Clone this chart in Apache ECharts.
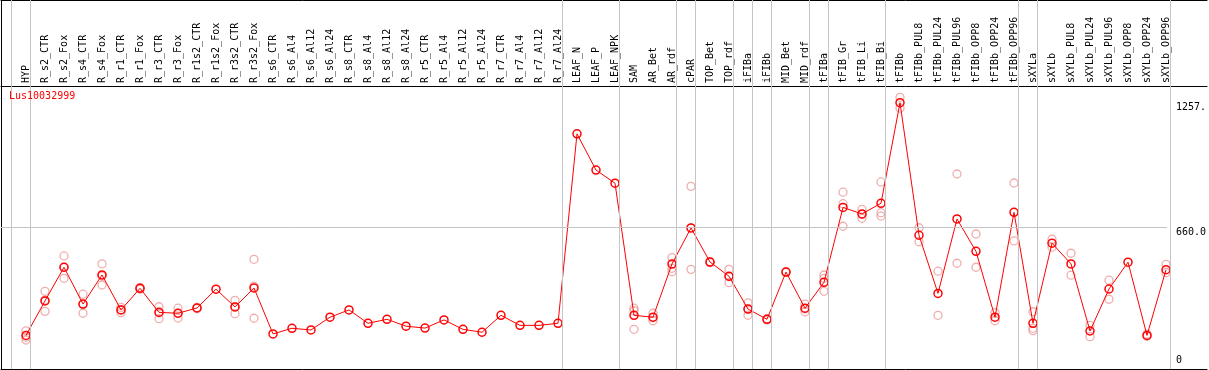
<!DOCTYPE html>
<html><head><meta charset="utf-8">
<script src="https://cdn.jsdelivr.net/npm/echarts@6/dist/echarts.min.js"></script>
<style>html,body{margin:0;padding:0;background:#fff}#c{width:1209px;height:370px}</style>
</head><body><div id="c"></div><script>
const geneId = 'Lus10032999';
const categories = ['HYP','R_s2_CTR','R_s2_Fox','R_s4_CTR','R_s4_Fox','R_r1_CTR','R_r1_Fox','R_r3_CTR','R_r3_Fox','R_r1s2_CTR','R_r1s2_Fox','R_r3s2_CTR','R_r3s2_Fox','R_s6_CTR','R_s6_Al4','R_s6_Al12','R_s6_Al24','R_s8_CTR','R_s8_Al4','R_s8_Al12','R_s8_Al24','R_r5_CTR','R_r5_Al4','R_r5_Al12','R_r5_Al24','R_r7_CTR','R_r7_Al4','R_r7_Al12','R_r7_Al24','LEAF_N','LEAF_P','LEAF_NPK','SAM','AR_Bet','AR_rdf','cPAR','TOP_Bet','TOP_rdf','iFIBa','iFIBb','MID_Bet','MID_rdf','tFIBa','tFIB_Gr','tFIB_Li','tFIB_Bi','tFIBb','tFIBb_PUL8','tFIBb_PUL24','tFIBb_PUL96','tFIBb_OPP8','tFIBb_OPP24','tFIBb_OPP96','sXYLa','sXYLb','sXYLb_PUL8','sXYLb_PUL24','sXYLb_PUL96','sXYLb_OPP8','sXYLb_OPP24','sXYLb_OPP96'];
const means = [144,309,470,294,433,266,369,254,250,275,365,280,371,151,178,170,231,266,202,221,188,179,218,173,159,240,192,192,202,1108,935,872,240,231,486,658,495,427,270,221,447,274,398,756,725,776,1257,623,345,701,546,231,733,202,585,486,165,366,494,144,458];
const replicates = [[166,135,122],[355,259,313],[524,417,470],[341,250,292],[486,385,428],[278,253,267],[374,366,367],[281,224,257],[274,227,249],[278,272],[],[312,248,280],[508,226,379],[],[],[],[],[],[],[],[],[],[],[],[],[],[],[],[],[],[],[],[274,262,173],[250,214,229],[516,465,449],[857,460,657],[497,492],[460,396,425],[300,240,270],[224,218],[449,445],[294,257,271],[433,417,355],[829,774,666],[747,704,723],[878,731,715],[1283,1231],[659,592],[451,240],[916,489],[629,470],[253,214],[873,596],[257,178,167],[604,566],[537,432],[192,138],[408,317],[],[150,140],[484,444]];
const yLabelValues = [660, 1257];
const yZeroLabel = [0];
const yRefLine = 660;
const groupBoundaries = [-0.5,0.5,28.5,31.5,34.5,35.5,37.5,38.5,39.5,41.5,42.5,45.5,52.5,53.5,60.5];

const YMAX = 1337;
const MONO = 'DejaVu Sans Mono';
const repData = [];
replicates.forEach((arr, i) => arr.forEach(v => repData.push([categories[i], v])));
const fmt = v => v === 0 ? '0' : v.toFixed(1).slice(0, 5);
const frameAxis = (grid, pos) => ({gridIndex: grid, type: 'value', position: pos, min: 0, max: 1,
  axisLine: {show: true, onZero: false, lineStyle: {color: '#000', width: 1}},
  axisTick: {show: false}, axisLabel: {show: false}, splitLine: {show: false}});

const chart = echarts.init(document.getElementById('c'), null, {renderer: 'canvas'});
chart.setOption({
  animation: false,
  backgroundColor: '#fff',
  title: {text: geneId, left: 9, top: 91, padding: 0,
    textStyle: {color: '#ff0000', fontSize: 10, fontFamily: MONO, fontWeight: 'normal'}},
  grid: [
    {left: 1, top: 0.5, right: 2, bottom: 1},
    {left: 1, top: 86, right: 2, bottom: 1},
    {left: 1, top: 0, right: 30, bottom: 1},
    {left: 1, top: 86, right: 39, bottom: 4.5},
    {left: 26, top: 86, right: 43, bottom: 4.5}
  ],
  xAxis: [
    frameAxis(0, 'top'),
    frameAxis(1, 'top'),
    {gridIndex: 2, type: 'value', show: false, min: -1.04, max: 60.96},
    {gridIndex: 3, type: 'value', show: false, min: 0, max: 1},
    {gridIndex: 4, type: 'category', data: categories, boundaryGap: false, position: 'top',
      axisLine: {show: false}, axisTick: {show: false}, splitLine: {show: false},
      axisLabel: {interval: 0, rotate: 90, margin: 3, fontSize: 10, fontFamily: MONO, color: '#000'}},
    frameAxis(0, 'bottom')
  ],
  yAxis: [
    frameAxis(0, 'left'),
    {gridIndex: 1, type: 'value', show: false},
    {gridIndex: 2, type: 'value', show: false, min: 0, max: 1},
    {gridIndex: 3, type: 'value', min: 0, max: YMAX, position: 'right',
      axisLine: {show: false}, axisTick: {show: false}, splitLine: {show: false},
      axisLabel: {customValues: yLabelValues, margin: 9, verticalAlign: 'top', align: 'left',
        fontSize: 10, fontFamily: MONO, color: '#000', formatter: fmt}},
    {gridIndex: 3, type: 'value', min: 0, max: YMAX, position: 'right',
      axisLine: {show: false}, axisTick: {show: false}, splitLine: {show: false},
      axisLabel: {customValues: yZeroLabel, margin: 9, verticalAlign: 'bottom', align: 'left',
        fontSize: 10, fontFamily: MONO, color: '#000', formatter: fmt}},
    {gridIndex: 4, type: 'value', min: 0, max: YMAX, show: false}
  ],
  series: [
    {type: 'line', xAxisIndex: 2, yAxisIndex: 2, data: [], silent: true,
      markLine: {silent: true, symbol: ['none', 'none'], label: {show: false}, animation: false,
        lineStyle: {color: '#c4c4c4', width: 1, type: 'solid'},
        emphasis: {disabled: true},
        data: groupBoundaries.map(v => ({xAxis: v}))}},
    {type: 'line', xAxisIndex: 3, yAxisIndex: 3, data: [], silent: true,
      markLine: {silent: true, symbol: ['none', 'none'], label: {show: false}, animation: false,
        lineStyle: {color: '#c4c4c4', width: 1, type: 'solid'},
        emphasis: {disabled: true},
        data: [{yAxis: yRefLine}]}},
    {type: 'scatter', xAxisIndex: 4, yAxisIndex: 5, data: repData, symbol: 'circle', symbolSize: 8,
      itemStyle: {color: 'rgba(255,255,255,0)', borderColor: '#eb9a9a', borderWidth: 1.3}},
    {type: 'line', xAxisIndex: 4, yAxisIndex: 5, data: means, symbol: 'circle', symbolSize: 8,
      showAllSymbol: true,
      lineStyle: {color: '#ff0000', width: 1},
      itemStyle: {color: 'rgba(255,255,255,0)', borderColor: '#ff0000', borderWidth: 1.5}}
  ]
});
</script></body></html>
